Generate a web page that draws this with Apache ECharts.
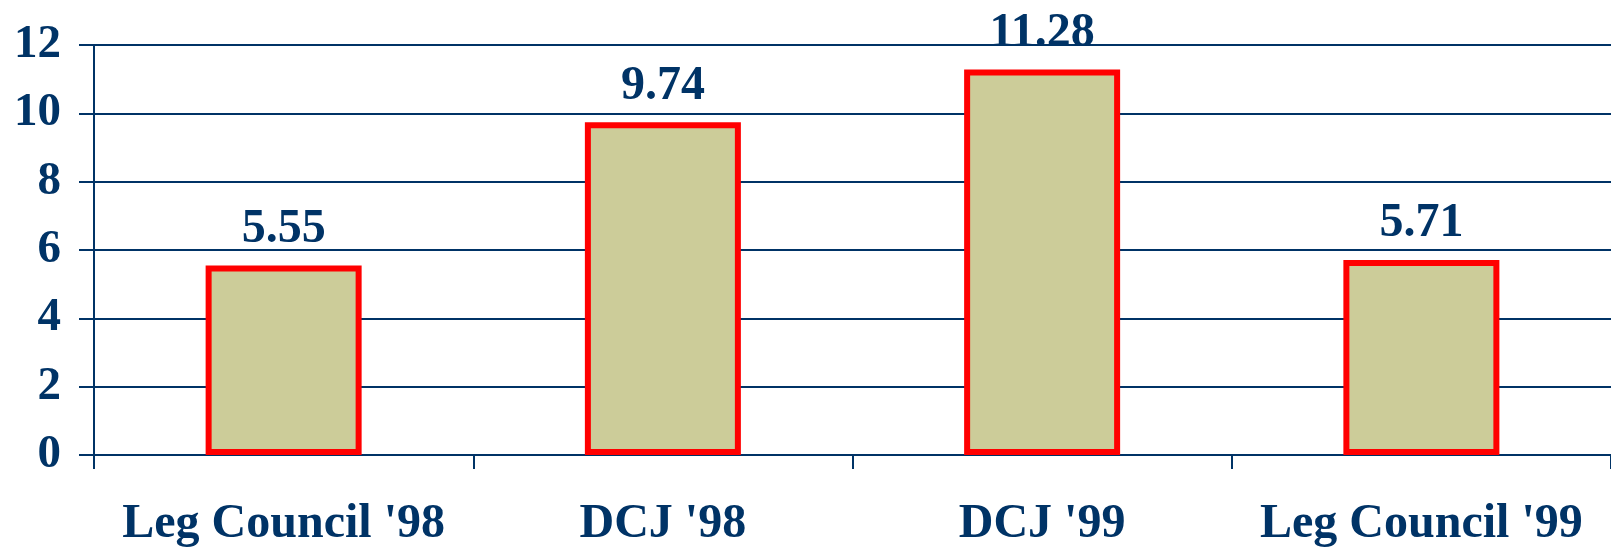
<!DOCTYPE html>
<html>
<head>
<meta charset="utf-8">
<script src="https://cdn.jsdelivr.net/npm/echarts@6/dist/echarts.min.js"></script>
<style>
  html, body { margin: 0; padding: 0; background: #fff; }
  #chart { width: 1611px; height: 549px; }
</style>
</head>
<body>
<div id="chart"></div>
<script>
var categories = ["Leg Council '98", "DCJ '98", "DCJ '99", "Leg Council '99"];
var values = [5.55, 9.74, 11.28, 5.71];

var navy = '#003366';
var font = 'Liberation Serif, Times New Roman, serif';

var chart = echarts.init(document.getElementById('chart'));

var option = {
    animation: false,
    grid: {left: 94, right: -4, top: 45, bottom: 91},
    xAxis: {
        type: 'category',
        data: categories,
        axisLine: {lineStyle: {color: navy, width: 2}},
        axisTick: {show: true, interval: 0, length: 14, lineStyle: {color: navy, width: 2}},
        axisLabel: {interval: 0, color: navy, fontFamily: font, fontWeight: 'bold', fontSize: 48, margin: 46}
    },
    yAxis: {
        type: 'value',
        min: 0,
        max: 12,
        interval: 2,
        axisLine: {show: true, lineStyle: {color: navy, width: 2}},
        axisTick: {show: true, length: 15, lineStyle: {color: navy, width: 2}},
        splitLine: {show: true, lineStyle: {color: navy, width: 2}},
        axisLabel: {color: navy, fontFamily: font, fontWeight: 'bold', fontSize: 47, margin: 33}
    },
    series: [{
        type: 'bar',
        data: values,
        barWidth: 156,
        itemStyle: {color: '#cccc99', borderColor: '#ff0000', borderWidth: 6},
        label: {
            show: true,
            position: 'top',
            distance: 12,
            color: navy,
            fontFamily: font,
            fontWeight: 'bold',
            fontSize: 48
        }
    }]
};

chart.setOption(option);
</script>
</body>
</html>
